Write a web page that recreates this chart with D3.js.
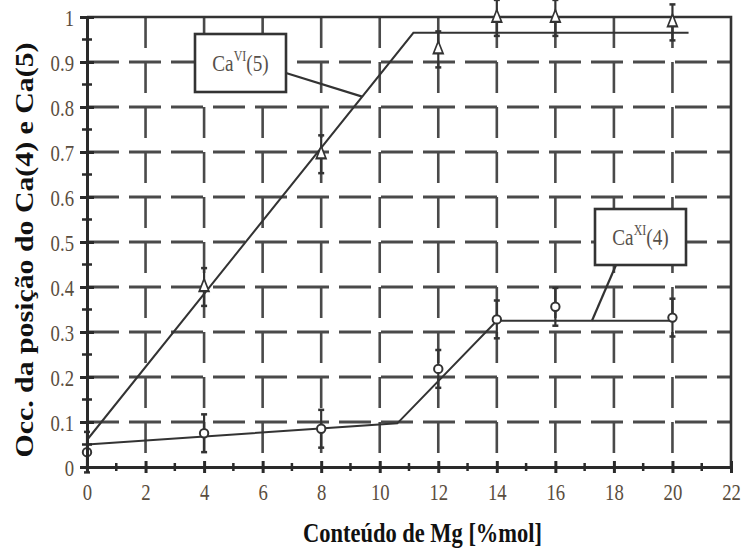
<!DOCTYPE html>
<html><head><meta charset="utf-8">
<script src="https://cdn.jsdelivr.net/npm/d3@7"></script>
<style>body{margin:0;background:#fff}svg{display:block}
.serif{font-family:"Liberation Serif","Times New Roman",Times,"DejaVu Serif",serif}</style>
</head><body>
<svg id="c" width="743" height="549"></svg>
<script>
// ---- data ----
const xTicks = [0,2,4,6,8,10,12,14,16,18,20,22];
const yTicks = [0,0.1,0.2,0.3,0.4,0.5,0.6,0.7,0.8,0.9,1];
const caVI_x = [4,8,12,14,16,20];
const caVI_y = [0.40,0.695,0.928,0.998,0.998,0.988];
const caVI_err = [0.042,0.042,0.04,0.04,0.04,0.04];
const caXI_x = [0,4,8,12,14,16,20];
const caXI_y = [0.033,0.075,0.085,0.218,0.328,0.356,0.332];
const caXI_err = [0.045,0.042,0.042,0.042,0.042,0.042,0.042];
const fitVI_x = [0,11.15,20.55];
const fitVI_y = [0.06,0.965,0.965];
const fitXI_x = [0,10.6,14,20];
const fitXI_y = [0.05,0.097,0.325,0.325];
const xTitle = "Conteúdo de Mg [%mol]";
const yTitle = "Occ. da posição do Ca(4) e Ca(5)";

// ---- layout ----
const svg = d3.select("#c");
const L = 87, T = 17, R = 731, B = 467;
const x = d3.scaleLinear().domain([0,22]).range([L,R]);
const y = d3.scaleLinear().domain([0,1]).range([B,T]);
const ink = "#2a2a2a", grid = "#4a4a4a", txt = "#5a4d3e";

// grid
svg.append("g").selectAll("line").data(yTicks.slice(1,-1)).join("line")
  .attr("x1",L).attr("x2",R).attr("y1",d=>y(d)).attr("y2",d=>y(d))
  .attr("stroke",grid).attr("stroke-width",3).attr("stroke-dasharray","32,10");
svg.append("g").selectAll("line").data(xTicks.slice(1,-1)).join("line")
  .attr("x1",d=>x(d)).attr("x2",d=>x(d)).attr("y1",T).attr("y2",B)
  .attr("stroke",grid).attr("stroke-width",2.6).attr("stroke-dasharray","31,14");

// frame (top, right)
svg.append("path").attr("d",`M${L},${T}H${R}V${B}`).attr("fill","none")
  .attr("stroke","#333").attr("stroke-width",2.6);

// fit lines
const line = d3.line().x(d=>x(d[0])).y(d=>y(d[1]));
svg.append("path").attr("d",line(d3.zip(fitVI_x,fitVI_y))).attr("fill","none").attr("stroke","#333").attr("stroke-width",2);
svg.append("path").attr("d",line(d3.zip(fitXI_x,fitXI_y))).attr("fill","none").attr("stroke","#333").attr("stroke-width",2);

// error bars
function errBars(xs,ys,es){
  const g = svg.append("g").attr("stroke","#333").attr("stroke-width",2.2);
  xs.forEach((xv,i)=>{
    const x0=x(xv), y1=y(ys[i]+es[i]), y2=y(ys[i]-es[i]);
    g.append("line").attr("x1",x0).attr("x2",x0).attr("y1",y1).attr("y2",y2);
    g.append("line").attr("x1",x0-3).attr("x2",x0+3).attr("y1",y1).attr("y2",y1).attr("stroke-width",2.5);
    g.append("line").attr("x1",x0-3).attr("x2",x0+3).attr("y1",y2).attr("y2",y2).attr("stroke-width",2.5);
  });
}
errBars(caVI_x,caVI_y,caVI_err);
errBars(caXI_x,caXI_y,caXI_err);

// markers
svg.append("g").selectAll("path").data(d3.zip(caVI_x,caVI_y)).join("path")
  .attr("d",d3.symbol(d3.symbolTriangle,55))
  .attr("transform",d=>`translate(${x(d[0])},${y(d[1])}) scale(0.85,1.25)`)
  .attr("fill","#fff").attr("stroke","#333").attr("stroke-width",1.8);
svg.append("g").selectAll("circle").data(d3.zip(caXI_x,caXI_y)).join("circle")
  .attr("cx",d=>x(d[0])).attr("cy",d=>y(d[1])).attr("r",4.2)
  .attr("fill","#fff").attr("stroke","#333").attr("stroke-width",2);

// axes
const fmt = d => d===0?"0":d===1?"1":d.toFixed(1);
const sx = 0.78;
const ya = svg.append("g").attr("transform",`translate(${L},0)`)
  .call(d3.axisLeft(y).tickValues(yTicks).tickFormat(fmt).tickSize(0));
ya.attr("font-family",null).attr("font-size",null);
ya.select(".domain").attr("stroke",ink).attr("stroke-width",3);
ya.selectAll(".tick line").attr("x1",-7).attr("x2",7).attr("stroke",ink).attr("stroke-width",3);
ya.selectAll(".tick text").attr("class","serif").attr("x",-13/sx).attr("dy","0.34em")
  .attr("transform",`scale(${sx},1)`)
  .style("font-size","24px").attr("fill",txt);
// minor y ticks
ya.append("g").selectAll("line").data(d3.range(0.05,1,0.1)).join("line")
  .attr("x1",-5).attr("x2",5).attr("y1",d=>y(d)).attr("y2",d=>y(d))
  .attr("stroke",ink).attr("stroke-width",2.5);

const xa = svg.append("g").attr("transform",`translate(0,${B})`)
  .call(d3.axisBottom(x).tickValues(xTicks).tickSize(0));
xa.attr("font-family",null).attr("font-size",null);
xa.select(".domain").attr("stroke",ink).attr("stroke-width",3);
xa.selectAll(".tick line").attr("y1",-6).attr("y2",6).attr("stroke",ink).attr("stroke-width",3);
xa.selectAll(".tick text").attr("class","serif").attr("y",33).attr("dy",null)
  .attr("transform",`scale(${sx},1)`)
  .style("font-size","24px").attr("fill",txt);
xa.append("g").selectAll("line").data(d3.range(1,22,2)).join("line")
  .attr("x1",d=>x(d)).attr("x2",d=>x(d)).attr("y1",-4).attr("y2",4)
  .attr("stroke",ink).attr("stroke-width",2.5);

// titles
svg.append("text").attr("class","serif").attr("x",(303+542)/2).attr("y",542).attr("text-anchor","middle")
  .style("font-weight","bold").style("font-size","28px")
  .attr("textLength",239).attr("lengthAdjust","spacingAndGlyphs").attr("fill","#111").text(xTitle);
svg.append("text").attr("class","serif").attr("transform","translate(33,250) rotate(-90)").attr("text-anchor","middle")
  .style("font-weight","bold").style("font-size","25px")
  .attr("textLength",415).attr("lengthAdjust","spacingAndGlyphs").attr("fill","#111").text(yTitle);

// label boxes
function labelBox(bx,by,bw,bh,sup,tail,lx1,ly1,lx2,ly2){
  svg.append("line").attr("x1",lx1).attr("y1",ly1).attr("x2",x(lx2)).attr("y2",y(ly2))
    .attr("stroke","#333").attr("stroke-width",2.2);
  svg.append("rect").attr("x",bx).attr("y",by).attr("width",bw).attr("height",bh)
    .attr("fill","#fff").attr("stroke","#333").attr("stroke-width",2.6);
  const t = svg.append("text").attr("class","serif").attr("transform",`translate(${bx+bw/2},${by+bh/2+8}) scale(0.8,1)`)
    .attr("text-anchor","middle").style("font-size","24px").attr("fill","#56504a");
  t.append("tspan").text("Ca");
  t.append("tspan").style("font-size","15px").attr("dy",-10).text(sup);
  t.append("tspan").attr("dy",10).text(tail);
}
labelBox(195,34,91,58,"VI","(5)",286,73,9.4,0.823);
labelBox(595,209,91,56,"XI","(4)",616,265,17.25,0.325);
</script>
</body></html>
